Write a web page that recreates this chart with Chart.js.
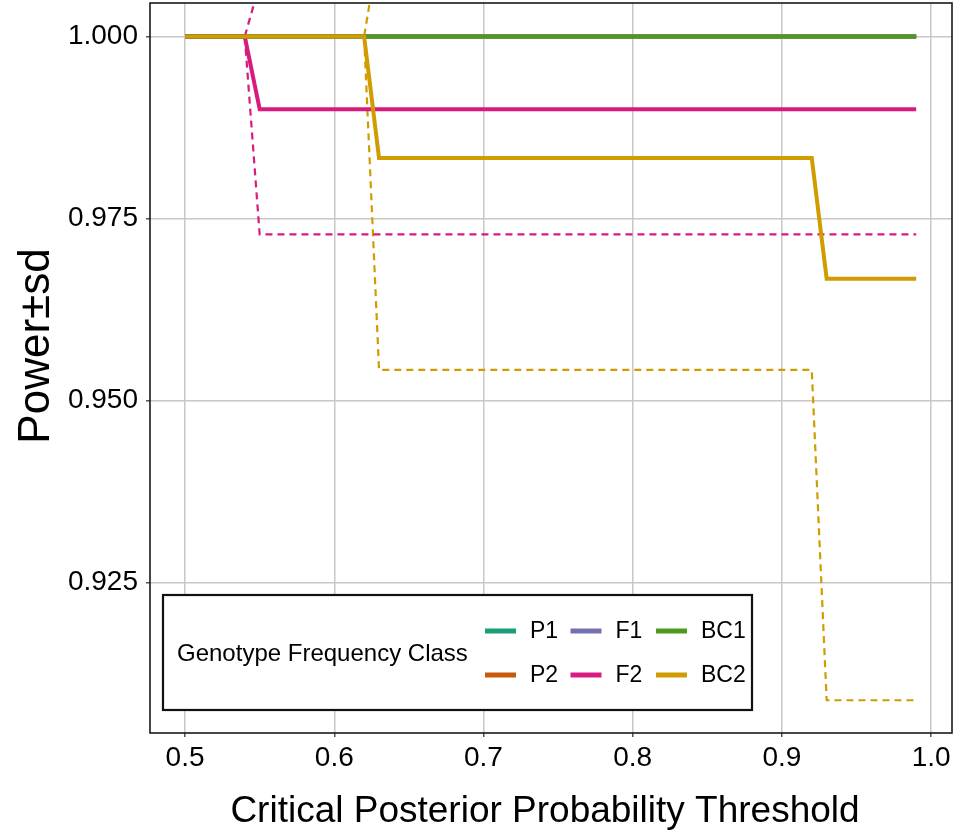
<!DOCTYPE html>
<html><head><meta charset="utf-8">
<script src="https://cdn.jsdelivr.net/npm/chart.js@4/dist/chart.umd.min.js"></script>
<style>html,body{margin:0;padding:0;background:#fff}canvas{display:block}</style>
</head><body>
<canvas id="c" width="958" height="836"></canvas>
<script>
// ---- data ----
const thresholds = [0.50,0.51,0.52,0.53,0.54,0.55,0.56,0.57,0.58,0.59,
                    0.60,0.61,0.62,0.63,0.64,0.65,0.66,0.67,0.68,0.69,
                    0.70,0.71,0.72,0.73,0.74,0.75,0.76,0.77,0.78,0.79,
                    0.80,0.81,0.82,0.83,0.84,0.85,0.86,0.87,0.88,0.89,
                    0.90,0.91,0.92,0.93,0.94,0.95,0.96,0.97,0.98,0.99];
const classes = ['P1','P2','F1','F2','BC1','BC2'];
const classColors = ['#1B9E77','#C65A0A','#7570B3','#D81B7F','#4F9A1C','#D09C00'];

const powerP1 = [1,1,1,1,1,1,1,1,1,1, 1,1,1,1,1,1,1,1,1,1, 1,1,1,1,1,1,1,1,1,1, 1,1,1,1,1,1,1,1,1,1, 1,1,1,1,1,1,1,1,1,1];
const powerP2 = [1,1,1,1,1,1,1,1,1,1, 1,1,1,1,1,1,1,1,1,1, 1,1,1,1,1,1,1,1,1,1, 1,1,1,1,1,1,1,1,1,1, 1,1,1,1,1,1,1,1,1,1];
const powerF1 = [1,1,1,1,1,1,1,1,1,1, 1,1,1,1,1,1,1,1,1,1, 1,1,1,1,1,1,1,1,1,1, 1,1,1,1,1,1,1,1,1,1, 1,1,1,1,1,1,1,1,1,1];
const powerF2 = [1,1,1,1,1,0.990,0.990,0.990,0.990,0.990,
                 0.990,0.990,0.990,0.990,0.990,0.990,0.990,0.990,0.990,0.990,
                 0.990,0.990,0.990,0.990,0.990,0.990,0.990,0.990,0.990,0.990,
                 0.990,0.990,0.990,0.990,0.990,0.990,0.990,0.990,0.990,0.990,
                 0.990,0.990,0.990,0.990,0.990,0.990,0.990,0.990,0.990,0.990];
const powerBC1 = [1,1,1,1,1,1,1,1,1,1, 1,1,1,1,1,1,1,1,1,1, 1,1,1,1,1,1,1,1,1,1, 1,1,1,1,1,1,1,1,1,1, 1,1,1,1,1,1,1,1,1,1];
const powerBC2 = [1,1,1,1,1,1,1,1,1,1,
                  1,1,1,0.9833,0.9833,0.9833,0.9833,0.9833,0.9833,0.9833,
                  0.9833,0.9833,0.9833,0.9833,0.9833,0.9833,0.9833,0.9833,0.9833,0.9833,
                  0.9833,0.9833,0.9833,0.9833,0.9833,0.9833,0.9833,0.9833,0.9833,0.9833,
                  0.9833,0.9833,0.9833,0.9667,0.9667,0.9667,0.9667,0.9667,0.9667,0.9667];
const sdF2 = [0,0,0,0,0,0.0172,0.0172,0.0172,0.0172,0.0172,
              0.0172,0.0172,0.0172,0.0172,0.0172,0.0172,0.0172,0.0172,0.0172,0.0172,
              0.0172,0.0172,0.0172,0.0172,0.0172,0.0172,0.0172,0.0172,0.0172,0.0172,
              0.0172,0.0172,0.0172,0.0172,0.0172,0.0172,0.0172,0.0172,0.0172,0.0172,
              0.0172,0.0172,0.0172,0.0172,0.0172,0.0172,0.0172,0.0172,0.0172,0.0172];
const sdBC2 = [0,0,0,0,0,0,0,0,0,0,
               0,0,0,0.0291,0.0291,0.0291,0.0291,0.0291,0.0291,0.0291,
               0.0291,0.0291,0.0291,0.0291,0.0291,0.0291,0.0291,0.0291,0.0291,0.0291,
               0.0291,0.0291,0.0291,0.0291,0.0291,0.0291,0.0291,0.0291,0.0291,0.0291,
               0.0291,0.0291,0.0291,0.0579,0.0579,0.0579,0.0579,0.0579,0.0579,0.0579];

const xTicks = [0.5,0.6,0.7,0.8,0.9,1.0];
const yTicks = [0.925,0.950,0.975,1.000];
const xTitle = 'Critical Posterior Probability Threshold';
const yTitle = 'Power\u00B1sd';
const legendTitle = 'Genotype Frequency Class';

// ---- build datasets ----
const powers = [powerP1, powerP2, powerF1, powerF2, powerBC1, powerBC2];
const sds = {F2: sdF2, BC2: sdBC2};
const pts = arr => thresholds.map((t, i) => ({x: t, y: arr[i]}));

const datasets = [];
// sd bands (dashed), drawn underneath
classes.forEach((c, k) => {
  if (!sds[c]) return;
  const p = powers[k], s = sds[c];
  [p.map((v, i) => v + s[i]), p.map((v, i) => v - s[i])].forEach(arr => {
    datasets.push({
      label: c + ' sd', isSd: true, data: pts(arr),
      borderColor: classColors[k], borderWidth: 2.2, borderDash: [7, 5],
      pointRadius: 0, tension: 0, fill: false, order: 20
    });
  });
});
classes.forEach((c, k) => {
  datasets.push({
    label: c, data: pts(powers[k]),
    borderColor: classColors[k], backgroundColor: classColors[k],
    borderWidth: 4, pointRadius: 0, tension: 0, fill: false,
    borderCapStyle: 'butt', borderJoinStyle: 'miter',
    order: 10 - k
  });
});

const FONT = '"Liberation Sans", Arial, Helvetica, sans-serif';

const decor = {
  id: 'decor',
  afterDatasetsDraw(chart) {
    const ctx = chart.ctx, a = chart.chartArea;
    ctx.save();
    // panel border
    ctx.strokeStyle = '#1a1a1a';
    ctx.lineWidth = 1.6;
    ctx.strokeRect(a.left, a.top, a.right - a.left, a.bottom - a.top);

    // legend box
    const bx = a.left + 13, by = a.bottom - 138, bw = 589, bh = 115;
    ctx.fillStyle = '#fff';
    ctx.fillRect(bx, by, bw, bh);
    ctx.strokeStyle = '#111';
    ctx.lineWidth = 2.2;
    ctx.strokeRect(bx, by, bw, bh);

    ctx.fillStyle = '#000';
    ctx.font = '24px ' + FONT;
    ctx.textBaseline = 'middle';
    ctx.textAlign = 'left';
    ctx.fillText(legendTitle, bx + 14, by + 59);

    const items = chart.data.datasets.filter(d => !d.isSd);
    items.forEach((d, i) => {
      const col = Math.floor(i / 2), row = i % 2;
      const kx = bx + 322 + col * 85.5;
      const ky = by + 36 + row * 44;
      ctx.strokeStyle = d.borderColor;
      ctx.lineWidth = 5;
      ctx.lineCap = 'butt';
      ctx.beginPath();
      ctx.moveTo(kx, ky);
      ctx.lineTo(kx + 31, ky);
      ctx.stroke();
      ctx.fillStyle = '#000';
      ctx.font = '23px ' + FONT;
      ctx.fillText(d.label, kx + 45, ky + 1);
    });

    // axis titles
    ctx.fillStyle = '#000';
    ctx.textAlign = 'center';
    ctx.textBaseline = 'middle';
    ctx.font = '37px ' + FONT;
    ctx.fillText(xTitle, 545, 812);
    ctx.save();
    ctx.translate(37, 346);
    ctx.rotate(-Math.PI / 2);
    ctx.font = '44px ' + FONT;
    ctx.fillText(yTitle, 0, 0);
    ctx.restore();
    ctx.restore();
  }
};

new Chart(document.getElementById('c'), {
  type: 'line',
  data: {datasets},
  options: {
    responsive: false, animation: false, devicePixelRatio: 1,
    layout: {padding: {top: 3, right: 6, left: 0, bottom: 0}},
    plugins: {legend: {display: false}, tooltip: {enabled: false}},
    scales: {
      x: {
        type: 'linear', min: 0.4765, max: 1.0140,
        afterBuildTicks: s => { s.ticks = xTicks.map(v => ({value: v})); },
        afterFit: s => { s.height = 103; s.paddingLeft = 0; s.paddingRight = 0; },
        ticks: {
          callback: v => Number(v).toFixed(1),
          color: '#000', font: {family: FONT, size: 28}, padding: 4, maxRotation: 0
        },
        grid: {color: '#c8c8c8', lineWidth: 1.5, tickLength: 4, tickColor: '#555', drawOnChartArea: true},
        border: {display: false}
      },
      y: {
        type: 'linear', min: 0.9043, max: 1.0046,
        afterBuildTicks: s => { s.ticks = yTicks.map(v => ({value: v})); },
        afterFit: s => { s.width = 150; s.paddingTop = 0; s.paddingBottom = 0; },
        ticks: {
          callback: v => Number(v).toFixed(3),
          color: '#000', font: {family: FONT, size: 28}, padding: 8
        },
        grid: {color: '#c8c8c8', lineWidth: 1.5, tickLength: 4, tickColor: '#555'},
        border: {display: false}
      }
    }
  },
  plugins: [decor]
});
</script>
</body></html>
